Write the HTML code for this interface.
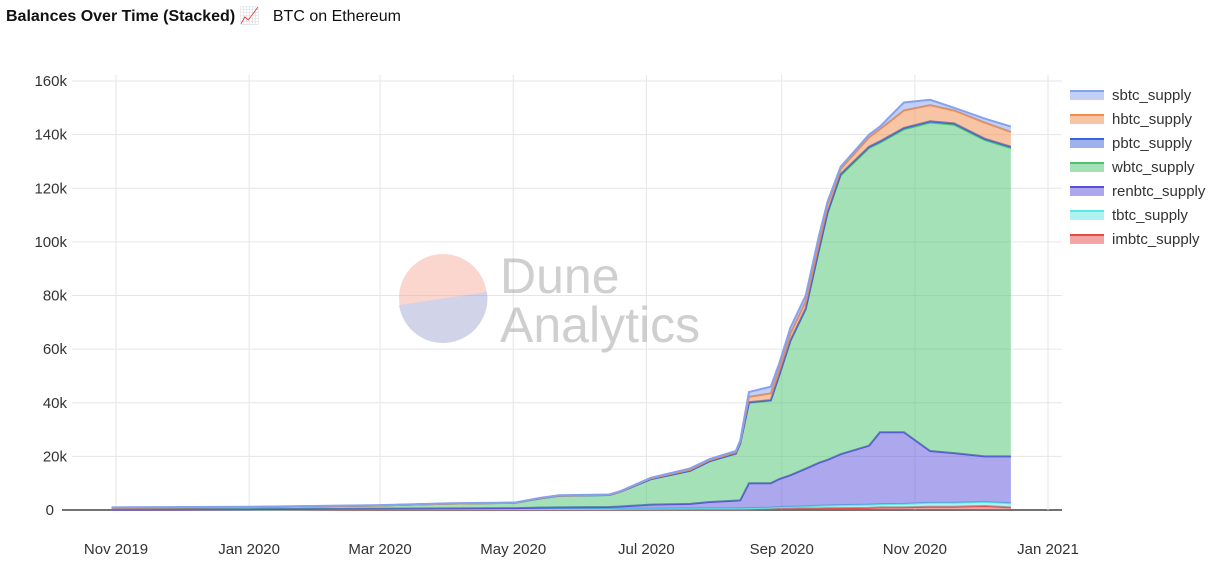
<!DOCTYPE html>
<html><head><meta charset="utf-8"><style>
body{margin:0;background:#fff;font-family:"Liberation Sans",sans-serif;}
#wrap{position:relative;width:1224px;height:571px;overflow:hidden}
.t{position:absolute;top:6px;left:6px;font-size:16px;color:#111}
</style></head><body><div id="wrap">
<div class="t"><b>Balances Over Time (Stacked)</b> <span style="color:#c33">📈</span>&nbsp;&nbsp; <span style="font-weight:normal">BTC on Ethereum</span></div>
<svg id="svg" width="1224" height="571" style="position:absolute;left:0;top:0"></svg>
</div>
<script>
const dates=["2019-10-30","2020-01-01","2020-03-01","2020-04-02","2020-05-02","2020-05-13","2020-05-22","2020-06-14","2020-06-19","2020-07-03","2020-07-21","2020-07-30","2020-08-11","2020-08-13","2020-08-17","2020-08-27","2020-08-31","2020-09-05","2020-09-12","2020-09-18","2020-09-22","2020-09-28","2020-10-11","2020-10-16","2020-10-27","2020-11-08","2020-11-19","2020-12-03","2020-12-15"];
const imbtc=[.1,.2,.3,.3,.3,.3,.3,.3,.3,.3,.3,.3,.3,.3,.3,.4,.5,.5,.6,.6,.7,.7,.8,1,1,1.2,1.2,1.5,1];
const tbtc=[0,.05,.1,.1,.1,.1,.1,.1,.2,.2,.3,.3,.3,.3,.4,.5,.6,.7,.8,1,1,1.1,1.2,1.2,1.3,1.5,1.5,1.5,1.5];
const renbtc=[0,.05,.1,.2,.3,.5,.6,.7,.8,1.5,1.7,2.4,2.9,3,9.3,9.1,10.5,11.8,14,16,17,19,22,26.8,26.7,19.3,18.5,17,17.5];
const wbtc=[.7,.8,1.2,1.8,2,3.4,4.3,4.5,5.5,9.5,12.3,15.2,17.5,21.2,30,30.8,38.8,50,59.5,79,92,104,111,108,113,122.5,122.5,118,115];
const pbtc=[0,0,0,0,0,0,0,0,0,0,0,0,.1,.1,.2,.2,.3,.3,.3,.4,.4,.5,.5,.5,.5,.5,.5,.5,.5];
const hbtc=[0,0,0,0,0,.1,.1,.1,.1,.3,.5,.5,.5,.6,2,2.5,2.3,2.5,2.6,3,2.9,1.9,3.5,4.5,6.5,6,4.8,6,5.5];
const sbtc=[.2,.1,.1,.1,.1,.1,.1,.1,.1,.2,.4,.3,.4,.5,1.8,2.5,2,2.2,2.2,2,1,.8,1,1,3,2,1,1.5,2];
const yTicks=[0,20,40,60,80,100,120,140,160];
const xTicks=["2019-11-01","2020-01-01","2020-03-01","2020-05-01","2020-07-01","2020-09-01","2020-11-01","2021-01-01"];
const xTickLabels=["Nov 2019","Jan 2020","Mar 2020","May 2020","Jul 2020","Sep 2020","Nov 2020","Jan 2021"];
const series=[["imbtc_supply",imbtc,"#e84a4a"],["tbtc_supply",tbtc,"#5ee8e4"],["renbtc_supply",renbtc,"#5b4fdc"],["wbtc_supply",wbtc,"#4cc46f"],["pbtc_supply",pbtc,"#3b64dc"],["hbtc_supply",hbtc,"#f28c4a"],["sbtc_supply",sbtc,"#86a2ee"]];
const NS="http://www.w3.org/2000/svg",svg=document.getElementById('svg');
const t0=Date.parse("2019-11-01"),t1=Date.parse("2021-01-01");
const X=d=>116+(Date.parse(d)-t0)/(t1-t0)*932;
const Y=v=>510-v/160*429;
function mk(tag,a){const e=document.createElementNS(NS,tag);for(const k in a)e.setAttribute(k,a[k]);svg.appendChild(e);return e;}
yTicks.forEach(v=>{const l=mk('line',{x1:v?72:62,x2:1062,y1:Y(v),y2:Y(v),stroke:v?'#e6e6e6':'#444','stroke-width':v?1:1.5});


const t=mk('text',{x:v?67:54,y:Y(v)+5,'text-anchor':'end','font-size':15,fill:'#333'});t.textContent=v?v+'k':'0';

});
xTicks.forEach((d,i)=>{const l=mk('line',{x1:X(d),x2:X(d),y1:75,y2:510,stroke:'#e6e6e6'});


const t=mk('text',{x:X(d),y:554,'text-anchor':'middle','font-size':15,fill:'#333'});t.textContent=xTickLabels[i];

});
const g=document.createElementNS(NS,'g');svg.appendChild(g);g.setAttribute('opacity','0.4');


g.innerHTML='<circle cx="443" cy="298" r="44" fill="#f49a86"/><path d="M399,305 A44,44 0 0 0 487,292 Z" fill="#8f95c8"/><text x="500" y="293" font-size="50" fill="#888">Dune</text><text x="500" y="342" font-size="50" fill="#888">Analytics</text>';
let base=dates.map(()=>0);
series.forEach(([name,vals,col])=>{const top=base.map((b,i)=>b+vals[i]);
const up=dates.map((d,i)=>X(d)+','+Y(top[i]));const dn=dates.map((d,i)=>X(d)+','+Y(base[i])).reverse();
const p=mk('polygon',{points:up.concat(dn).join(' '),fill:col,'fill-opacity':0.5});


const l=mk('polyline',{points:up.join(' '),fill:'none',stroke:col,'stroke-width':2});


base=top;});
series.slice().reverse().forEach(([name,vals,col],i)=>{const y=95+i*24;
const r=mk('rect',{x:1070,y:y-5,width:34,height:10,fill:col,'fill-opacity':0.5});


const l=mk('line',{x1:1070,x2:1104,y1:y-4,y2:y-4,stroke:col,'stroke-width':2});


const t=mk('text',{x:1112,y:y+5,'font-size':15,fill:'#333'});t.textContent=name;

});
</script></body></html>
